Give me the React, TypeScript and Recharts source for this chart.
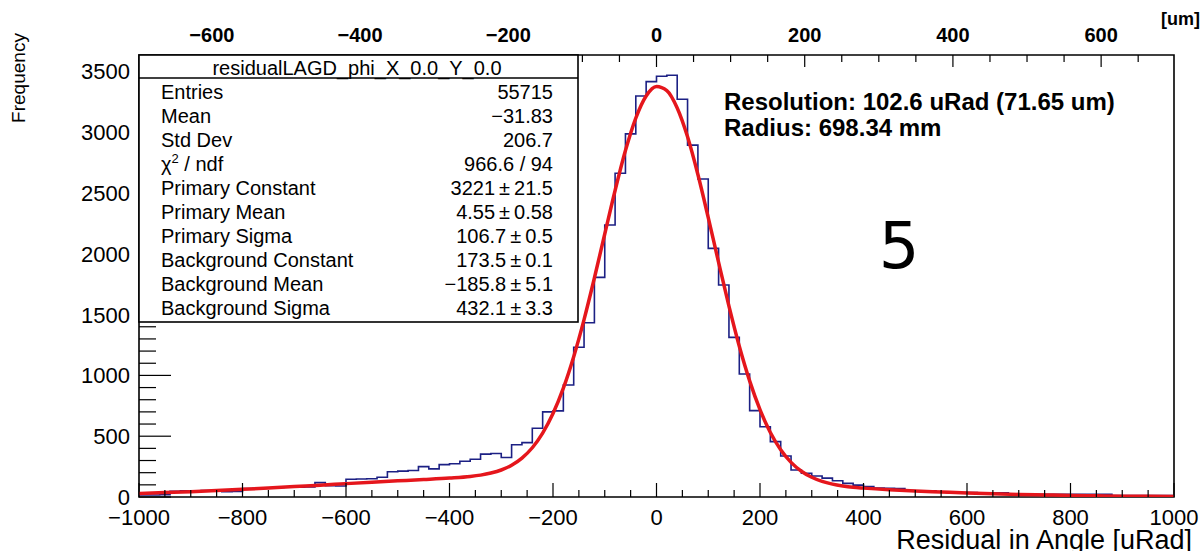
import { ComposedChart, Line, XAxis, YAxis, ReferenceArea } from 'recharts';

const FONT = '"Liberation Sans", Arial, Helvetica, sans-serif';
const RADIUS_MM = 698.34; // um per mRad, used for the top axis
const Y_MAX = 3635;

// histogram bin low edges (uRad), 20 uRad bins
const binEdges = [
  -1000, -980, -960, -940, -920, -900, -880, -860, -840, -820,
  -800, -780, -760, -740, -720, -700, -680, -660, -640, -620,
  -600, -580, -560, -540, -520, -500, -480, -460, -440, -420,
  -400, -380, -360, -340, -320, -300, -280, -260, -240, -220,
  -200, -180, -160, -140, -120, -100, -80, -60, -40, -20,
  0, 20, 40, 60, 80, 100, 120, 140, 160, 180,
  200, 220, 240, 260, 280, 300, 320, 340, 360, 380,
  400, 420, 440, 460, 480, 500, 520, 540, 560, 580,
  600, 620, 640, 660, 680, 700, 720, 740, 760, 780,
  800, 820, 840, 860, 880, 900, 920, 940, 960, 980,
  1000,
];
const binCounts = [
  16, 16, 18, 46, 51, 51, 53, 51, 44, 46,
  69, 71, 73, 79, 81, 81, 83, 118, 92, 90,
  146, 148, 150, 162, 208, 213, 218, 250, 231, 266,
  274, 294, 310, 353, 358, 325, 430, 447, 565, 700,
  708, 921, 1231, 1433, 1806, 2237, 2662, 2986, 3298, 3416,
  3460, 3468, 3271, 2894, 2615, 2045, 1743, 1313, 1012, 710,
  578, 455, 337, 222, 195, 173, 155, 134, 112, 98,
  85, 73, 71, 69, 53, 52, 51, 41, 36, 36,
  36, 35, 35, 34, 23, 22, 22, 22, 22, 22,
  22, 22, 22, 22, 11, 11, 11, 11, 11, 11,
  11,
];

// fitted double gaussian
const fitX = [
  -1000, -950, -900, -850, -800, -750, -700, -650, -600, -550,
  -500, -450, -400, -360, -340, -320, -300, -280, -260, -240,
  -220, -200, -180, -160, -140, -120, -100, -80, -60, -40,
  -20, 0, 20, 40, 60, 80, 100, 120, 140, 160,
  180, 200, 220, 240, 260, 280, 300, 320, 340, 360,
  380, 400, 450, 500, 550, 600, 650, 700, 750, 800,
  850, 900, 950, 1000,
];
const fitY = [
  29, 36, 44, 53, 63, 74, 86, 97, 110, 122,
  133, 144, 156, 169, 180, 197, 222, 261, 320, 405,
  525, 686, 895, 1154, 1459, 1801, 2163, 2521, 2849, 3116,
  3298, 3376, 3342, 3199, 2962, 2652, 2298, 1929, 1570, 1240,
  955, 718, 531, 389, 285, 212, 162, 128, 106, 91,
  80, 73, 59, 49, 41, 33, 27, 21, 17, 13,
  10, 7, 6, 4,
];

const topMajor = [-600, -400, -200, 0, 200, 400, 600];

const range = (a: number, b: number, s: number) => {
  const out: number[] = [];
  for (let v = a; v <= b; v += s) out.push(v);
  return out;
};
const bottomTicks = range(-1000, 1000, 50);
const topTicks = range(-650, 650, 50);
const leftTicks = range(0, 3500, 100);

const statLabels = [
  'Entries', 'Mean', 'Std Dev', 'CHI', 'Primary Constant', 'Primary Mean',
  'Primary Sigma', 'Background Constant', 'Background Mean', 'Background Sigma',
];
const statValues = [
  '55715', '\u221231.83', '206.7', '966.6 / 94', '3221\u2009\u00b1\u200921.5', '4.55\u2009\u00b1\u20090.58',
  '106.7\u2009\u00b1\u20090.5', '173.5\u2009\u00b1\u20090.1', '\u2212185.8\u2009\u00b1\u20095.1', '432.1\u2009\u00b1\u20093.3',
];

const histData = binEdges.map((u, i) => ({ u, v: binCounts[i] }));
const fitData = fitX.map((u, i) => ({ u, v: fitY[i] }));
// same fit on the um scale, only so the top axis has a series
const fitDataUm = fitX.map((u, i) => ({ um: (u * RADIUS_MM) / 1000, v: fitY[i] }));

const fmt = (v: number) => (v < 0 ? '\u2212' + Math.abs(v) : String(v));

function BottomTick(props: any) {
  const { x, y, payload } = props;
  const major = payload.value % 200 === 0;
  return (
    <g>
      <line x1={x} x2={x} y1={y} y2={y - (major ? 14 : 7)} stroke="#000" strokeWidth={1.2} />
      {major && (
        <text x={x} y={y + 28} textAnchor="middle" fontSize={22} fontFamily={FONT} fill="#000">
          {fmt(payload.value)}
        </text>
      )}
    </g>
  );
}

function TopTick(props: any) {
  const { x, y, payload } = props;
  const major = topMajor.includes(payload.value);
  return (
    <g>
      <line x1={x} x2={x} y1={y} y2={y + (major ? 12 : 7)} stroke="#000" strokeWidth={1.2} />
      {major && (
        <text x={x} y={y - 13} textAnchor="middle" fontSize={20} fontWeight="bold" fontFamily={FONT} fill="#000">
          {fmt(payload.value)}
        </text>
      )}
    </g>
  );
}

function LeftTick(props: any) {
  const { x, y, payload } = props;
  const major = payload.value % 500 === 0;
  return (
    <g>
      <line x1={x} x2={x + (major ? 32 : 17)} y1={y} y2={y} stroke="#000" strokeWidth={1.2} />
      {major && (
        <text x={x - 9} y={y} dy={8} textAnchor="end" fontSize={22} fontFamily={FONT} fill="#000">
          {payload.value}
        </text>
      )}
    </g>
  );
}

export default function App() {
  return (
    <div style={{ position: 'absolute', left: 0, top: 0, width: 1203, height: 551, background: '#fff' }}>
      <ComposedChart width={1203} height={551} margin={{ top: 20, right: 29, bottom: 14, left: 69 }}>
        <XAxis
          xAxisId="rad"
          dataKey="u"
          type="number"
          domain={[-1000, 1000]}
          allowDataOverflow
          ticks={bottomTicks}
          interval={0}
          height={40}
          tickSize={0}
          tickMargin={0}
          axisLine={false}
          tickLine={false}
          tick={BottomTick}
        />
        <XAxis
          xAxisId="um"
          dataKey="um"
          orientation="top"
          type="number"
          domain={[-RADIUS_MM, RADIUS_MM]}
          allowDataOverflow
          ticks={topTicks}
          interval={0}
          height={35}
          tickSize={0}
          tickMargin={0}
          axisLine={false}
          tickLine={false}
          tick={TopTick}
        />
        <YAxis
          yAxisId="f"
          type="number"
          domain={[0, Y_MAX]}
          allowDataOverflow
          ticks={leftTicks}
          interval={0}
          width={70}
          tickSize={0}
          tickMargin={0}
          axisLine={false}
          tickLine={false}
          tick={LeftTick}
        />
        <ReferenceArea
          xAxisId="rad"
          yAxisId="f"
          x1={-1000}
          x2={1000}
          y1={0}
          y2={Y_MAX}
          fill="none"
          fillOpacity={0}
          stroke="#000"
          strokeWidth={1.6}
        />
        <Line
          xAxisId="um"
          yAxisId="f"
          data={fitDataUm}
          dataKey="v"
          type="monotone"
          stroke="none"
          strokeOpacity={0}
          dot={false}
          activeDot={false}
          isAnimationActive={false}
        />
        <Line
          xAxisId="rad"
          yAxisId="f"
          data={histData}
          dataKey="v"
          type="stepAfter"
          stroke="#1c2084"
          strokeWidth={1.6}
          dot={false}
          isAnimationActive={false}
        />
        <Line
          xAxisId="rad"
          yAxisId="f"
          data={fitData}
          dataKey="v"
          type="monotone"
          stroke="#e5161c"
          strokeWidth={3.5}
          dot={false}
          isAnimationActive={false}
        />
      </ComposedChart>
      <svg
        width={1203}
        height={551}
        style={{ position: 'absolute', left: 0, top: 0, pointerEvents: 'none' }}
        fontFamily={FONT}
      >
        <text transform="translate(25,78) rotate(-90)" textAnchor="middle" fontSize={19} fill="#000">
          Frequency
        </text>
        <text x={1192} y={549} textAnchor="end" fontSize={27} fill="#000">
          Residual in Angle [uRad]
        </text>
        <text x={1200} y={25} textAnchor="end" fontSize={18} fontWeight="bold" fill="#000">
          [um]
        </text>

        <rect x={139} y={55} width={439} height={267} fill="#fff" stroke="#000" strokeWidth={1.6} />
        <line x1={139} x2={578} y1={78} y2={78} stroke="#000" strokeWidth={1.6} />
        <text x={357} y={68} dy={7} textAnchor="middle" fontSize={20} fill="#000">
          residualLAGD_phi_X_0.0_Y_0.0
        </text>
        {statLabels.map((lab, i) => (
          <g key={lab}>
            <text x={161} y={92 + 24 * i} dy={7} fontSize={20} fill="#000">
              {lab === 'CHI' ? (
                <>
                  <tspan>χ</tspan>
                  <tspan dy={-8} fontSize={13}>2</tspan>
                  <tspan dy={8}> / ndf</tspan>
                </>
              ) : (
                lab
              )}
            </text>
            <text x={553} y={92 + 24 * i} dy={7} textAnchor="end" fontSize={20} fill="#000">
              {statValues[i]}
            </text>
          </g>
        ))}

        <text x={724} y={110} fontSize={24} fontWeight="bold" fill="#000">
          Resolution: 102.6 uRad (71.65 um)
        </text>
        <text x={724} y={136} fontSize={24} fontWeight="bold" fill="#000">
          Radius: 698.34 mm
        </text>
        <text x={899} y={268} textAnchor="middle" fontSize={64} fontFamily='"DejaVu Sans", sans-serif' fill="#000">
          5
        </text>
      </svg>
    </div>
  );
}
